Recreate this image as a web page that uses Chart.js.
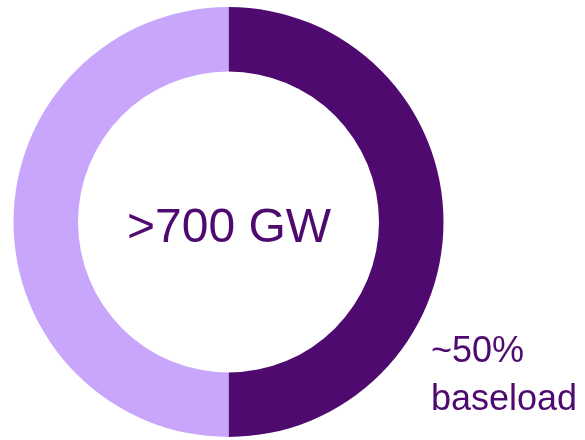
<!DOCTYPE html>
<html>
<head>
    <title>Baseload share</title>
    <script src="https://cdn.jsdelivr.net/npm/chart.js"></script>
    <style>
        html, body { margin: 0; padding: 0; background: #fff; }
        #wrap { width: 585px; height: 440px; position: relative; }
    </style>
</head>
<body>
    <div id="wrap">
        <canvas id="donut"></canvas>
    </div>

    <script>
        // chart data
        const labels = ['Baseload', 'Other'];
        const shares = [50, 50];
        const colors = ['#4F0A70', '#C8A6FC'];
        const centerText = '>700 GW';
        const sideText = ['~50%', 'baseload'];

        const textColor = '#4F0A70';

        // draws the big number in the hole and the note at the lower right
        const textPlugin = {
            id: 'donutText',
            afterDraw(chart) {
                const ctx = chart.ctx;
                const meta = chart.getDatasetMeta(0).data[0];
                ctx.save();
                ctx.fillStyle = textColor;
                ctx.textBaseline = 'alphabetic';

                // center label
                ctx.font = '48px "Liberation Sans", Arial, sans-serif';
                ctx.textAlign = 'center';
                ctx.fillText(centerText, meta.x + 0.5, 242);

                // side note
                ctx.font = '36px "Liberation Sans", Arial, sans-serif';
                ctx.textAlign = 'left';
                ctx.fillText(sideText[0], 431, 362);
                ctx.fillText(sideText[1], 431, 410);
                ctx.restore();
            }
        };

        const ctx = document.getElementById('donut').getContext('2d');
        new Chart(ctx, {
            type: 'doughnut',
            data: {
                labels: labels,
                datasets: [{
                    data: shares,
                    backgroundColor: colors,
                    borderWidth: 0
                }]
            },
            options: {
                responsive: true,
                maintainAspectRatio: false,
                animation: false,
                cutout: '70%',
                layout: {
                    padding: { top: 7, bottom: 3, left: 13, right: 141 }
                },
                plugins: {
                    legend: { display: false },
                    tooltip: { enabled: false }
                }
            },
            plugins: [textPlugin]
        });
    </script>
</body>
</html>
